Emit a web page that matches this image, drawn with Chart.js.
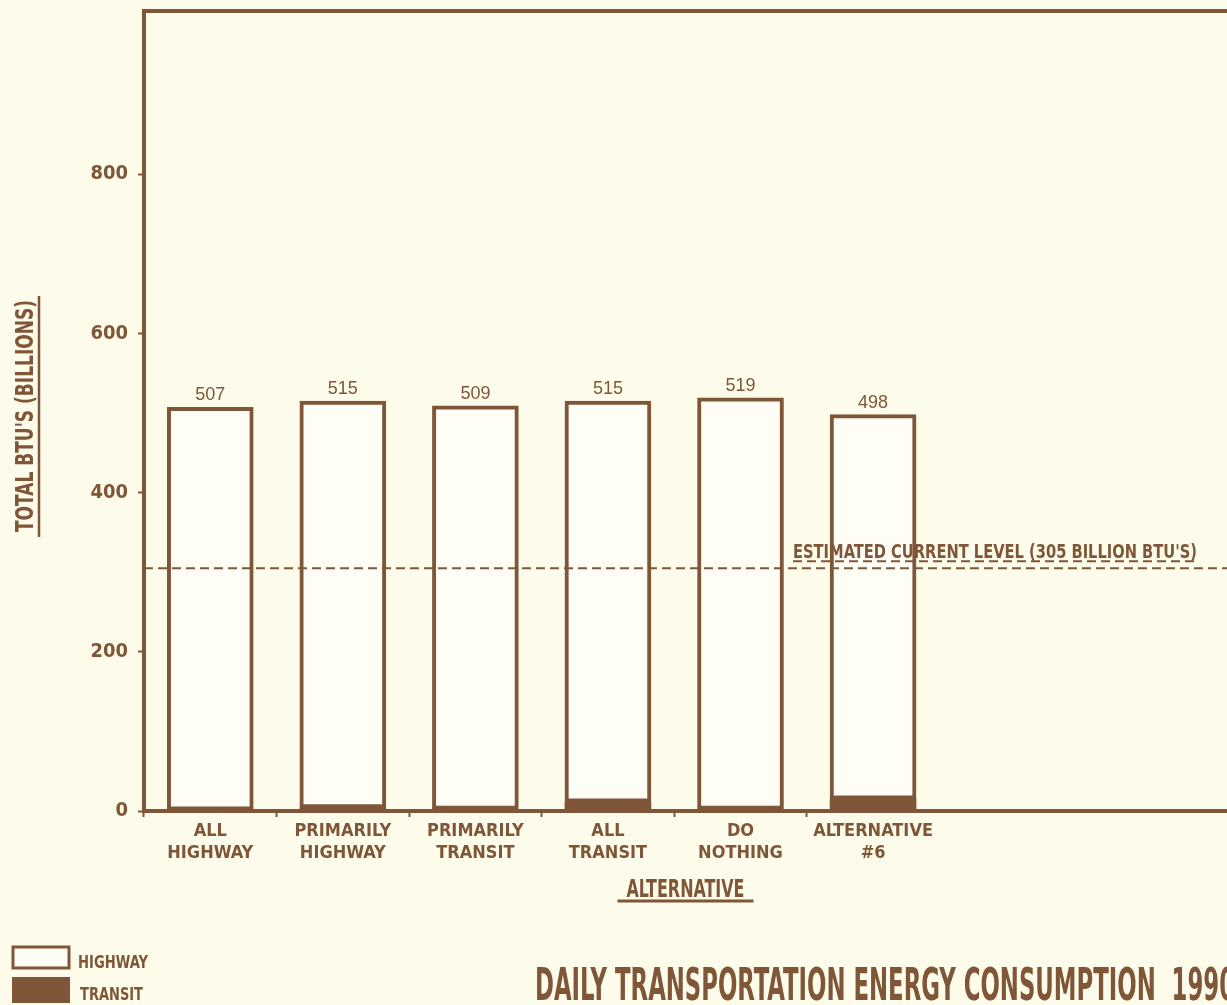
<!DOCTYPE html>
<html>
<head>
<meta charset="utf-8">
<title>Daily Transportation Energy Consumption 1990</title>
<script src="https://cdn.jsdelivr.net/npm/chart.js@4.4.1/dist/chart.umd.min.js"></script>
<style>
  html, body { margin: 0; padding: 0; background: #fdfbea; overflow: hidden; }
  #wrap { position: relative; width: 1227px; height: 1005px; }
</style>
</head>
<body>
<div id="wrap"><canvas id="energy-chart"></canvas></div>
<script>
// values (billions of BTU per day)
const alternatives = [['ALL', 'HIGHWAY'], ['PRIMARILY', 'HIGHWAY'], ['PRIMARILY', 'TRANSIT'], ['ALL', 'TRANSIT'], ['DO', 'NOTHING'], ['ALTERNATIVE', '#6']];
const highway = [506, 511, 507, 504, 517, 483];
const transit = [1, 4, 2, 11, 2, 15];
const totalLabels = ['507', '515', '509', '515', '519', '498'];
const yTicks = [0, 200, 400, 600, 800];
const currentLevel = 305;

const brown = '#7f5638';
const narrow = "'Liberation Sans Narrow', 'DejaVu Sans Condensed', 'Liberation Sans', sans-serif";
const plain = "'Liberation Sans', Arial, sans-serif";

// extra drawing: frame top, current level line, bar totals, axis titles, legend, title
const extras = {
    id: 'extras',
    afterDatasetsDraw(chart) {
        const ctx = chart.ctx;
        const area = chart.chartArea;
        const y = chart.scales.y;
        ctx.save();
        ctx.strokeStyle = brown;
        ctx.fillStyle = brown;

        // top line of the frame
        ctx.lineWidth = 4;
        ctx.beginPath();
        ctx.moveTo(area.left - 2, area.top);
        ctx.lineTo(area.right, area.top);
        ctx.stroke();

        // estimated current level
        const ly = y.getPixelForValue(currentLevel);
        ctx.lineWidth = 2;
        ctx.setLineDash([9, 5]);
        ctx.beginPath();
        ctx.moveTo(area.left, ly);
        ctx.lineTo(area.right, ly);
        ctx.stroke();
        ctx.beginPath();
        ctx.moveTo(793, ly - 7);
        ctx.lineTo(1198, ly - 7);
        ctx.stroke();
        ctx.setLineDash([]);
        ctx.textAlign = 'left';
        ctx.textBaseline = 'alphabetic';
        ctx.font = 'bold 19px ' + narrow;
        ctx.fillText("ESTIMATED CURRENT LEVEL (305 BILLION BTU'S)", 793, ly - 10, 404);

        // totals above bars
        ctx.font = '18px ' + plain;
        ctx.textAlign = 'center';
        chart.getDatasetMeta(1).data.forEach((bar, i) => {
            ctx.fillText(totalLabels[i], bar.x, bar.y - 7);
        });

        // y axis title
        ctx.save();
        ctx.translate(33, 416);
        ctx.rotate(-Math.PI / 2);
        ctx.font = 'bold 24px ' + narrow;
        ctx.fillText("TOTAL BTU'S (BILLIONS)", 0, 0, 232);
        ctx.restore();
        ctx.lineWidth = 2.5;
        ctx.beginPath();
        ctx.moveTo(39, 296);
        ctx.lineTo(39, 537);
        ctx.stroke();

        // x axis title
        const cx = (area.left + area.right) / 2;
        ctx.font = 'bold 24px ' + narrow;
        ctx.fillText('ALTERNATIVE', cx, 897, 118);
        ctx.lineWidth = 3;
        ctx.beginPath();
        ctx.moveTo(cx - 68, 901);
        ctx.lineTo(cx + 68, 901);
        ctx.stroke();

        // legend
        const hw = chart.data.datasets[1];
        const tr = chart.data.datasets[0];
        ctx.lineWidth = 3;
        ctx.fillStyle = hw.backgroundColor;
        ctx.fillRect(13, 947, 56, 21);
        ctx.strokeRect(13, 947, 56, 21);
        ctx.fillStyle = tr.backgroundColor;
        ctx.fillRect(12, 977, 58, 26);
        ctx.fillStyle = brown;
        ctx.textAlign = 'left';
        ctx.font = 'bold 18px ' + narrow;
        ctx.fillText(hw.label, 78, 968, 70);
        ctx.fillText(tr.label, 80, 1000, 63);

        // chart title
        ctx.font = 'bold 44px ' + narrow;
        ctx.fillText('DAILY TRANSPORTATION ENERGY CONSUMPTION  1990', 535, 1000, 700);

        ctx.restore();
    }
};

new Chart(document.getElementById('energy-chart'), {
    type: 'bar',
    data: {
        datasets: [
            {
                label: 'TRANSIT',
                data: transit.map((v, i) => ({ x: i, y: v })),
                backgroundColor: brown,
                borderWidth: 0,
                barThickness: 86
            },
            {
                label: 'HIGHWAY',
                data: highway.map((v, i) => ({ x: i, y: v })),
                backgroundColor: '#fffef6',
                borderColor: brown,
                borderWidth: 4,
                borderSkipped: false,
                barThickness: 86
            }
        ]
    },
    options: {
        responsive: true,
        maintainAspectRatio: false,
        animation: false,
        layout: { padding: { top: 11, right: 0, bottom: 114, left: 0 } },
        plugins: {
            legend: { display: false },
            tooltip: { enabled: false }
        },
        scales: {
            x: {
                type: 'linear',
                min: -0.5,
                max: 7.67,
                offset: false,
                stacked: true,
                afterBuildTicks: s => { s.ticks = alternatives.map((_, i) => ({ value: i })); },
                afterFit: s => { s.height = 80; },
                ticks: {
                    color: brown,
                    font: { family: narrow, size: 18, weight: 'bold', lineHeight: 1.2 },
                    padding: 4,
                    maxRotation: 0,
                    autoSkip: false,
                    callback: v => alternatives[v]
                },
                grid: {
                    offset: true,
                    drawOnChartArea: false,
                    tickLength: 6,
                    tickWidth: 2,
                    color: brown,
                    tickColor: c => c.tick ? brown : 'rgba(0,0,0,0)'
                },
                border: { color: brown, width: 4 }
            },
            y: {
                min: 0,
                max: 1005,
                stacked: true,
                afterBuildTicks: s => { s.ticks = yTicks.map(v => ({ value: v })); },
                afterFit: s => { s.width = 144; s.paddingTop = 0; s.paddingBottom = 0; },
                ticks: {
                    color: brown,
                    font: { family: narrow, size: 20, weight: 'bold' },
                    padding: 10
                },
                grid: {
                    drawOnChartArea: false,
                    tickLength: 6,
                    tickWidth: 2,
                    color: brown,
                    tickColor: brown
                },
                border: { color: brown, width: 4 }
            }
        }
    },
    plugins: [extras]
});
</script>
</body>
</html>
